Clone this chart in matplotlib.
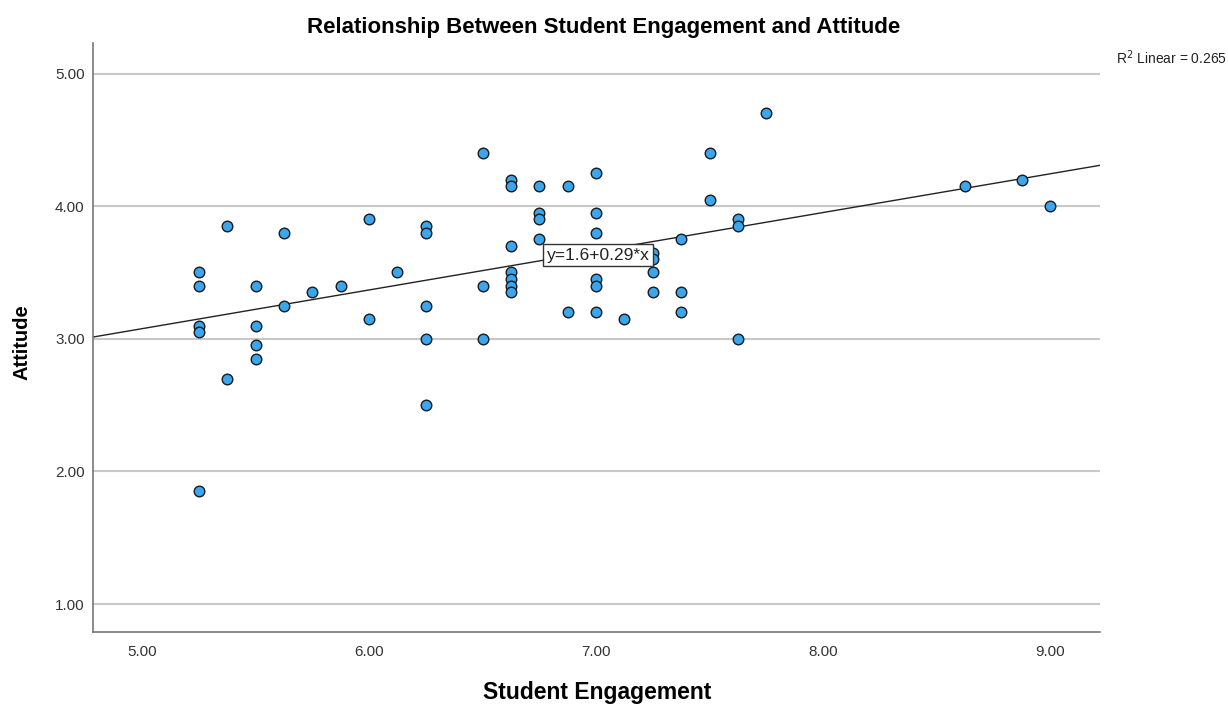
import numpy as np
import matplotlib
matplotlib.use("Agg")
import matplotlib.pyplot as plt

plt.rcParams['font.family'] = ['Liberation Sans', 'DejaVu Sans']

engagement = [5.25, 5.25, 5.25, 5.25, 5.25,
              5.375, 5.375,
              5.5, 5.5, 5.5, 5.5,
              5.625, 5.625,
              5.75, 5.875,
              6.0, 6.0,
              6.125,
              6.25, 6.25, 6.25, 6.25, 6.25,
              6.5, 6.5, 6.5,
              6.625, 6.625, 6.625, 6.625, 6.625, 6.625, 6.625,
              6.75, 6.75, 6.75, 6.75,
              6.875, 6.875,
              7.0, 7.0, 7.0, 7.0, 7.0, 7.0,
              7.125,
              7.25, 7.25, 7.25, 7.25,
              7.375, 7.375, 7.375,
              7.5, 7.5,
              7.625, 7.625, 7.625,
              7.75,
              8.625, 8.875, 9.0]
attitude = [3.50, 3.40, 3.10, 3.05, 1.85,
            3.85, 2.70,
            3.40, 3.10, 2.95, 2.85,
            3.80, 3.25,
            3.35, 3.40,
            3.90, 3.15,
            3.50,
            3.85, 3.80, 3.25, 3.00, 2.50,
            4.40, 3.40, 3.00,
            4.20, 4.15, 3.70, 3.50, 3.45, 3.40, 3.35,
            4.15, 3.95, 3.90, 3.75,
            4.15, 3.20,
            4.25, 3.95, 3.80, 3.45, 3.40, 3.20,
            3.15,
            3.65, 3.60, 3.50, 3.35,
            3.75, 3.35, 3.20,
            4.40, 4.05,
            3.90, 3.85, 3.00,
            4.70,
            4.15, 4.20, 4.00]

x_ticks = [5.0, 6.0, 7.0, 8.0, 9.0]
y_ticks = [1.0, 2.0, 3.0, 4.0, 5.0]
fit_label = "y=1.6+0.29*x"
r2_label = "R$^2$ Linear = 0.265"

x = np.array(engagement)
y = np.array(attitude)

W, H = 1228, 706
fig = plt.figure(figsize=(W / 100, H / 100), dpi=100)
ax = fig.add_axes([93 / W, 1 - 632 / H, (1100 - 93) / W, (632 - 43) / H])

xmin, xmax = 4.784, 9.22
ax.set_xlim(xmin, xmax)
ax.set_ylim(0.79, 5.23)

for t in y_ticks:
    ax.axhline(t, color='#c8c8c8', lw=1.5, zorder=0)

slope, intercept = np.polyfit(x, y, 1)
xl = np.array([xmin, xmax])
ax.plot(xl, intercept + slope * xl, color='#222222', lw=1.0, zorder=2)

ax.scatter(x, y, s=58, facecolor='#3aa6ee', edgecolor='#1a1a1a', linewidth=1.0, zorder=3)

ax.text(7.01, 3.63, fit_label, ha='center', va='center', fontsize=12.5, color='#222222',
        bbox=dict(boxstyle='square,pad=0.2', facecolor='white', edgecolor='#333333', lw=1.0), zorder=4)

ax.set_xticks(x_ticks)
ax.set_xticklabels([f"{v:.2f}" for v in x_ticks])
ax.set_yticks(y_ticks)
ax.set_yticklabels([f"{v:.2f}" for v in y_ticks])
ax.tick_params(length=0, labelsize=11, colors='#333333', pad=6)
ax.tick_params(axis='x', pad=9)

for s in ['top', 'right']:
    ax.spines[s].set_visible(False)
for s in ['left', 'bottom']:
    ax.spines[s].set_color('#777777')
    ax.spines[s].set_linewidth(1.2)

fig.text(604 / W, 1 - 28 / H, "Relationship Between Student Engagement and Attitude",
         fontsize=16, fontweight='bold', ha='center', va='center')
fig.text(597 / W, 1 - 693 / H, "Student Engagement", fontsize=16.5, fontweight='bold',
         ha='center', va='center')
fig.text(22 / W, 1 - 342 / H, "Attitude", fontsize=14.5, fontweight='bold',
         ha='center', va='center', rotation=90)

fig.text(1116 / W, 1 - 58 / H, r2_label, fontsize=10, ha='left', va='center', color='#222222')

fig.savefig("out.png", dpi=100)
